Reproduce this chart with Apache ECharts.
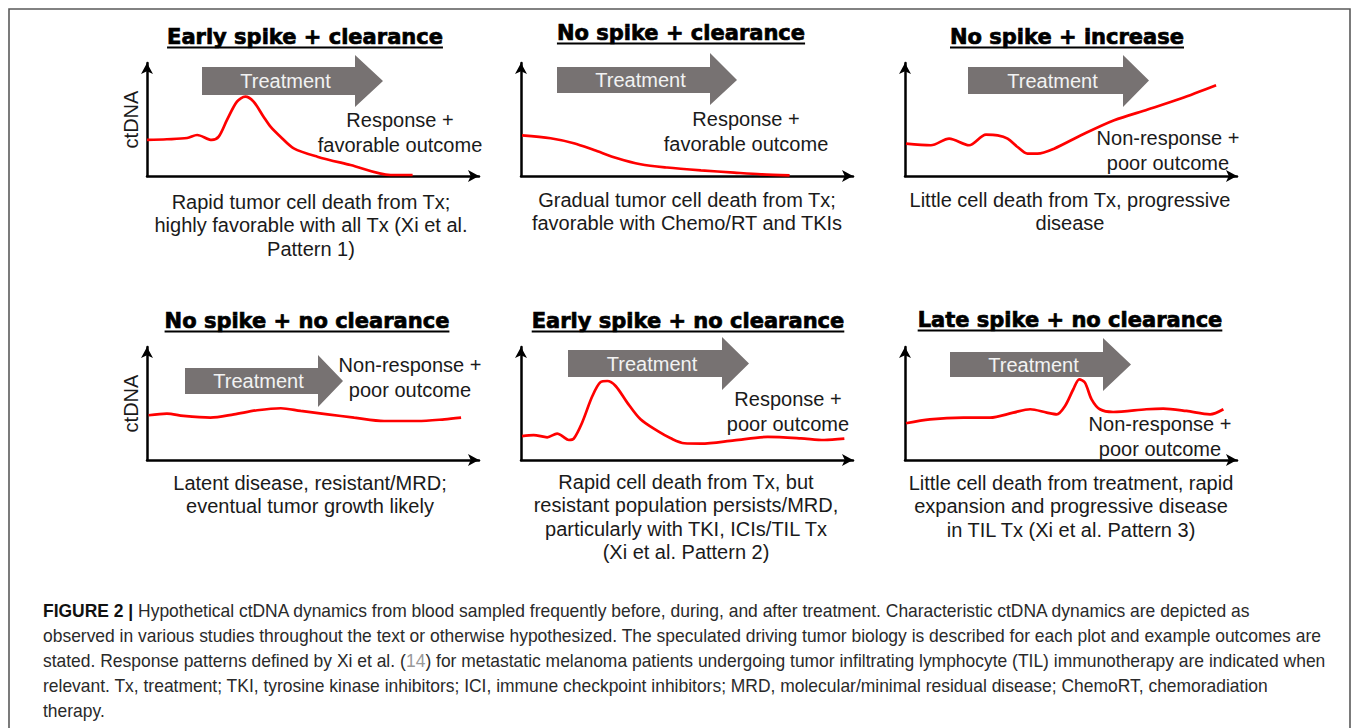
<!DOCTYPE html>
<html><head><meta charset="utf-8">
<script src="https://cdn.jsdelivr.net/npm/echarts@6/dist/echarts.min.js"></script>
<style>html,body{margin:0;padding:0;background:#fff}#c{width:1355px;height:728px}</style>
</head><body><div id="c"></div>
<script>
// ---------- data ----------
const panelTitles = ["Early spike + clearance", "No spike + clearance", "No spike + increase",
  "No spike + no clearance", "Early spike + no clearance", "Late spike + no clearance"];
const outcomeLabels = ["Response +\nfavorable outcome", "Response +\nfavorable outcome", "Non-response +\npoor outcome",
  "Non-response +\npoor outcome", "Response +\npoor outcome", "Non-response +\npoor outcome"];
const biologyNotes = [
  "Rapid tumor cell death from Tx;\nhighly favorable with all Tx (Xi et al.\nPattern 1)",
  "Gradual tumor cell death from Tx;\nfavorable with Chemo/RT and TKIs",
  "Little cell death from Tx, progressive\ndisease",
  "Latent disease, resistant/MRD;\neventual tumor growth likely",
  "Rapid cell death from Tx, but\nresistant population persists/MRD,\nparticularly with TKI, ICIs/TIL Tx\n(Xi et al. Pattern 2)",
  "Little cell death from treatment, rapid\nexpansion and progressive disease\nin TIL Tx (Xi et al. Pattern 3)"];
const yAxisName = "ctDNA";
const arrowLabel = "Treatment";

// time (0-100) and ctDNA level (0-100) per panel
const p1X = [0, 6, 12.1, 15.1, 19.5, 21.6, 24.1, 27.1, 29.6, 32.1, 35.1, 37.2, 40.2, 44.2, 51.3, 61.3, 73.4, 80];
const p1Y = [31.9, 32.5, 33.6, 36.3, 31.9, 34.8, 49.6, 65.8, 70.2, 65.8, 52.5, 43.7, 34.8, 24.5, 17.1, 9.7, 0.9, 0.9];
const p2X = [0.3, 8.9, 15.9, 22, 29, 36, 44, 54.2, 64.2, 72.3, 80.9];
const p2Y = [36, 33.4, 29, 23, 15.7, 10.4, 7.5, 5, 3, 1.5, 0.6];
const p3X = [0.3, 7.8, 13.3, 19.3, 24.4, 27.9, 30.9, 33.9, 36.9, 39.9, 44.9, 53, 63, 73.1, 83.1, 93.7];
const p3Y = [28.7, 27.2, 33.1, 27.2, 36.6, 36, 33.1, 25.7, 19.8, 19.8, 24.2, 36, 49.3, 58.8, 68.5, 80.3];
const p4X = [0.5, 6, 11, 19.1, 26.2, 33.2, 40.3, 46.3, 54.4, 62.4, 71.4, 81.5, 89.6, 94.6];
const p4Y = [39.6, 41.1, 39, 37.5, 40.4, 44, 45.8, 43.4, 40.4, 37.5, 34.5, 34.5, 36, 37.5];
const p5X = [0.3, 3.8, 7.9, 10.9, 12.4, 14.4, 15.9, 18.4, 21.5, 24, 26, 28.5, 32, 36, 41.1, 45.1, 49.2, 54.2, 64.2, 74.3, 84.3, 91.3, 97.4];
const p5Y = [21.2, 22.1, 20.1, 23.4, 21.2, 17.7, 18.9, 33, 56.6, 69, 69.9, 65.5, 50.8, 36, 25.7, 19.2, 14.8, 14.5, 17.4, 20.4, 19.2, 17.7, 18.9];
const p6X = [0.3, 7.5, 17.6, 25.6, 32.6, 37.7, 42.7, 45.7, 48.2, 50.7, 52.5, 54.2, 56.2, 58.7, 62.7, 72.7, 77.8, 84.8, 91.9, 95.9];
const p6Y = [32.5, 36, 37.5, 37.5, 41.9, 44.9, 41.9, 40.4, 47.8, 62.6, 71.4, 68.5, 53.7, 44.9, 42.5, 44.9, 45.5, 43.4, 40.4, 44.9];

const captionLines = [
  "{b|FIGURE 2 |} Hypothetical ctDNA dynamics from blood sampled frequently before, during, and after treatment. Characteristic ctDNA dynamics are depicted as",
  "observed in various studies throughout the text or otherwise hypothesized. The speculated driving tumor biology is described for each plot and example outcomes are",
  "stated. Response patterns defined by Xi et al. ({g|14}) for metastatic melanoma patients undergoing tumor infiltrating lymphocyte (TIL) immunotherapy are indicated when",
  "relevant. Tx, treatment; TKI, tyrosine kinase inhibitors; ICI, immune checkpoint inhibitors; MRD, molecular/minimal residual disease; ChemoRT, chemoradiation",
  "therapy."];

// ---------- layout ----------
const colLeft = [147, 521, 905], rowTop = [63, 347], GW = 332, GH = 113;
const titlePos = [[305, 37], [681, 33], [1067, 37], [307, 321], [688, 321], [1070, 320]];
const outcomePos = [[400, 132.5], [746, 131.7], [1168, 150.5], [410, 377], [788, 411], [1160, 436]];
const notePos = [[311, 201.7], [687, 200], [1070, 200], [310, 482.7], [686, 481.7], [1071, 482.7]];
// arrow geometry relative to grid: bodyL, bodyR, tip, bodyT, bodyB, headT, headB
const arrowGeom = [[55, 208, 236, 4, 32, -8, 44], [36, 189, 216, 4, 30, -10, 42], [63, 218, 244, 4, 31, -8, 44],
  [38, 171, 196, 21, 47, 8, 60], [47, 201, 228, 3, 30, -10, 43], [45, 198, 226, 5, 30, -9, 44]];

const SANS = '"Liberation Sans", Arial, sans-serif';
const TITLE_FONT = 'bold 21px "DejaVu Sans"';
const cv = document.createElement('canvas').getContext('2d');
function measure(txt, font) { cv.font = font; return cv.measureText(txt).width; }

const xs = [p1X, p2X, p3X, p4X, p5X, p6X], ys = [p1Y, p2Y, p3Y, p4Y, p5Y, p6Y];
const grid = [], xAxis = [], yAxis = [], series = [], graphic = [];
const axisLine = { show: true, symbol: ['none', 'arrow'], symbolSize: [9, 11], lineStyle: { color: '#000', width: 2.5 } };

for (let k = 0; k < 6; k++) {
  const c = k % 3, r = Math.floor(k / 3);
  const L = colLeft[c], T = rowTop[r];
  grid.push({ left: L, top: T, width: GW, height: GH, containLabel: false });
  xAxis.push({ type: 'value', gridIndex: k, min: 0, max: 100, axisLine, axisTick: { show: false }, axisLabel: { show: false }, splitLine: { show: false } });
  yAxis.push({ type: 'value', gridIndex: k, min: 0, max: 100, axisLine, axisTick: { show: false }, axisLabel: { show: false }, splitLine: { show: false },
    name: c === 0 ? yAxisName : '', nameLocation: 'middle', nameGap: 6,
    nameTextStyle: { fontSize: 20, fontFamily: SANS, color: '#1a1a1a' } });
  series.push({ type: 'line', xAxisIndex: k, yAxisIndex: k, data: xs[k].map((x, i) => [x, ys[k][i]]),
    smooth: 0.3, symbol: 'none', clip: false, lineStyle: { color: '#ff0000', width: 2.7 }, z: 3 });

  // Treatment arrow
  const g = arrowGeom[k];
  graphic.push({ type: 'polygon', z: 1, shape: { points: [
    [L + g[0], T + g[3]], [L + g[1], T + g[3]], [L + g[1], T + g[5]], [L + g[2], T + (g[3] + g[4]) / 2],
    [L + g[1], T + g[6]], [L + g[1], T + g[4]], [L + g[0], T + g[4]]] }, style: { fill: '#777272' } });
  graphic.push({ type: 'text', z: 2, style: { text: arrowLabel, x: L + (g[0] + g[1]) / 2 + 7, y: T + (g[3] + g[4]) / 2,
    font: '20px ' + SANS, fill: '#f2f2f2', align: 'center', verticalAlign: 'middle', textAlign: 'center', textVerticalAlign: 'middle' } });

  // title + underline
  const tw = measure(panelTitles[k], TITLE_FONT);
  graphic.push({ type: 'text', style: { text: panelTitles[k], x: titlePos[k][0], y: titlePos[k][1], font: TITLE_FONT, fill: '#000',
    stroke: '#000', lineWidth: 0.7,
    align: 'center', verticalAlign: 'middle', textAlign: 'center', textVerticalAlign: 'middle' } });
  graphic.push({ type: 'line', shape: { x1: titlePos[k][0] - tw / 2, y1: titlePos[k][1] + 10.5, x2: titlePos[k][0] + tw / 2, y2: titlePos[k][1] + 10.5 },
    style: { stroke: '#000', lineWidth: 2 } });

  // outcome label
  graphic.push({ type: 'text', z: 4, style: { text: outcomeLabels[k], x: outcomePos[k][0], y: outcomePos[k][1], font: '20px ' + SANS, fill: '#1a1a1a',
    lineHeight: 25, align: 'center', verticalAlign: 'middle', textAlign: 'center', textVerticalAlign: 'middle' } });
  // biology note
  graphic.push({ type: 'text', style: { text: biologyNotes[k], x: notePos[k][0], y: notePos[k][1] - 11.7, font: '20px ' + SANS, fill: '#1a1a1a',
    lineHeight: 23.4, align: 'center', verticalAlign: 'top', textAlign: 'center', textVerticalAlign: 'top' } });
}

// figure border
graphic.push({ type: 'polyline', shape: { points: [[9, 760], [9, 9], [1350, 9], [1350, 760]] }, style: { stroke: '#5a5a5a', lineWidth: 1.6, fill: null } });

// caption
const CAP_FONT = '18px ' + SANS;
const plain2 = captionLines[1];
const capScale = 1279 / measure(plain2, CAP_FONT);
const capY = [611, 636, 661, 686, 711];
captionLines.forEach((t, i) => {
  graphic.push({ type: 'text', x: 43, y: capY[i], scaleX: capScale, scaleY: 1, originX: 0, originY: 0,
    style: { text: t, x: 0, y: 0, font: CAP_FONT, fill: '#2a2a2a', align: 'left', verticalAlign: 'middle', textAlign: 'left', textVerticalAlign: 'middle',
      rich: { b: { fontWeight: 'bold', fontSize: 18, fontFamily: SANS, fill: '#111', color: '#111' },
              g: { fontSize: 18, fontFamily: SANS, fill: '#999', color: '#999' } } } });
});

const chart = echarts.init(document.getElementById('c'), null, { renderer: 'svg' });
chart.setOption({ animation: false, backgroundColor: '#fff', grid, xAxis, yAxis, series, graphic });
</script></body></html>
